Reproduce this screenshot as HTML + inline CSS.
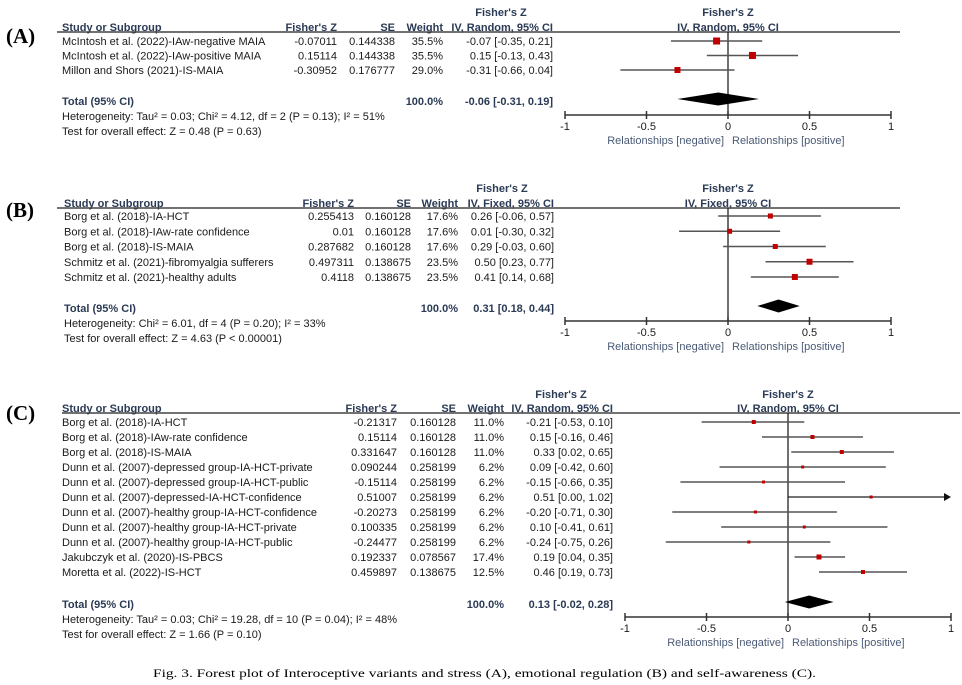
<!DOCTYPE html>
<html><head><meta charset="utf-8">
<style>
html,body{margin:0;padding:0;background:#fff;}
svg{display:block;}
text{font-family:"Liberation Sans",Arial,sans-serif;font-size:11px;fill:#1a1a1a;}
.h{font-weight:bold;fill:#2b3a55;}
.t{font-weight:bold;fill:#2b3a55;}
.rel{fill:#4a5a75;}
.pl{font-family:"Liberation Serif",serif;font-size:21px;font-weight:bold;fill:#000;}
.cap{font-family:"Liberation Serif",serif;font-size:12px;fill:#000;}
</style></head>
<body>
<svg id="s" width="962" height="685" viewBox="0 0 962 685" xmlns="http://www.w3.org/2000/svg"></svg>
<script>
const S=document.getElementById('s');const NS='http://www.w3.org/2000/svg';
function el(n,a,txt){const e=document.createElementNS(NS,n);for(const k in a)e.setAttribute(k,a[k]);if(txt!==undefined)e.textContent=txt;S.appendChild(e);return e;}
function T(x,y,s,cls,anchor){return el('text',{x:x,y:y+4,class:cls||'','text-anchor':anchor||'start'},s);}
function L(x1,y1,x2,y2,c,w){el('line',{x1,y1,x2,y2,stroke:c||'#555','stroke-width':w||1.5});}
function panel(p){
  const z=p.z0,u=p.u;const X=v=>z+u*v;
  // headers
  T(p.ci-52,p.hy1,"Fisher's Z",'h','middle');
  T(p.nx,p.hy2,'Study or Subgroup','h');
  T(p.fz,p.hy2,"Fisher's Z",'h','end');
  T(p.se,p.hy2,'SE','h','end');
  T(p.w,p.hy2,'Weight','h','end');
  T(p.ci,p.hy2,p.meth,'h','end');
  T(z,p.hy1,"Fisher's Z",'h','middle');
  T(z,p.hy2,p.meth,'h','middle');
  L(p.r0,p.ry,p.r1,p.ry,'#444',1.5);
  // zero line
  L(z,p.ry,z,p.ay,'#222',1.3);
  p.rows.forEach((r,i)=>{
    const y=p.rows0+i*p.step;
    T(p.nx,y,r[0]);T(p.fz,y,r[1],'','end');T(p.se,y,r[2],'','end');T(p.w,y,r[3],'','end');T(p.ci,y,r[4],'','end');
    const lo=r[6],hi=r[7];
    if(hi>1){L(X(lo),y,X(1)-5,y,'#222',1.3);el('polygon',{points:`${X(1)},${y} ${X(1)-7},${y-4} ${X(1)-7},${y+4}`,fill:'#111'});}
    else L(X(lo),y,X(hi),y,'#555',1.5);
    const s=r[8];el('rect',{x:X(r[5])-s/2,y:y-s/2,width:s,height:s,fill:'#c00000'});
  });
  T(p.nx,p.ty,'Total (95% CI)','t');T(p.w,p.ty,'100.0%','t','end');T(p.ci,p.ty,p.tot[0],'t','end');
  const d=p.tot;const dy=p.dy;
  el('polygon',{points:`${X(d[2])},${dy} ${X(d[1])},${dy-6.5} ${X(d[3])},${dy} ${X(d[1])},${dy+6.5}`,fill:'#000'});
  T(p.nx,p.ty+15,p.het);T(p.nx,p.ty+30,p.test);
  // axis
  L(X(-1),p.ay,X(1),p.ay,'#333',1.5);
  [-1,-0.5,0,0.5,1].forEach(v=>{L(X(v),p.ay-4,X(v),p.ay+4,'#333',1.5);T(X(v),p.ay+11,String(v),'','middle');});
  T(z-4,p.ay+25,'Relationships [negative]','rel','end');T(z+4,p.ay+25,'Relationships [positive]','rel');
  el('text',{x:6,y:p.ly+7,class:'pl'},p.lab);
}
panel({lab:'(A)',ly:36,z0:728,u:163,nx:62,fz:337,se:395,w:443,ci:553,hy1:12,hy2:27,ry:32,r0:57,r1:900,meth:'IV, Random, 95% CI',
 rows0:41,step:14.5,ty:101,dy:99,ay:115,
 rows:[['McIntosh et al. (2022)-IAw-negative MAIA','-0.07011','0.144338','35.5%','-0.07 [-0.35, 0.21]',-0.07,-0.35,0.21,7],
       ['McIntosh et al. (2022)-IAw-positive MAIA','0.15114','0.144338','35.5%','0.15 [-0.13, 0.43]',0.15,-0.13,0.43,7],
       ['Millon and Shors (2021)-IS-MAIA','-0.30952','0.176777','29.0%','-0.31 [-0.66, 0.04]',-0.31,-0.66,0.04,6]],
 tot:['-0.06 [-0.31, 0.19]',-0.06,-0.31,0.19],
 het:'Heterogeneity: Tau² = 0.03; Chi² = 4.12, df = 2 (P = 0.13); I² = 51%',test:'Test for overall effect: Z = 0.48 (P = 0.63)'});
panel({lab:'(B)',ly:210,z0:728,u:163,nx:64,fz:354,se:411,w:458,ci:554,hy1:188,hy2:203,ry:208,r0:57,r1:900,meth:'IV, Fixed, 95% CI',
 rows0:216,step:15.25,ty:308,dy:306,ay:321,
 rows:[['Borg et al. (2018)-IA-HCT','0.255413','0.160128','17.6%','0.26 [-0.06, 0.57]',0.26,-0.06,0.57,5],
       ['Borg et al. (2018)-IAw-rate confidence','0.01','0.160128','17.6%','0.01 [-0.30, 0.32]',0.01,-0.30,0.32,5],
       ['Borg et al. (2018)-IS-MAIA','0.287682','0.160128','17.6%','0.29 [-0.03, 0.60]',0.29,-0.03,0.60,5],
       ['Schmitz et al. (2021)-fibromyalgia sufferers','0.497311','0.138675','23.5%','0.50 [0.23, 0.77]',0.50,0.23,0.77,6],
       ['Schmitz et al. (2021)-healthy adults','0.4118','0.138675','23.5%','0.41 [0.14, 0.68]',0.41,0.14,0.68,6]],
 tot:['0.31 [0.18, 0.44]',0.31,0.18,0.44],
 het:'Heterogeneity: Chi² = 6.01, df = 4 (P = 0.20); I² = 33%',test:'Test for overall effect: Z = 4.63 (P < 0.00001)'});
panel({lab:'(C)',ly:413,z0:788,u:163,nx:62,fz:397,se:456,w:504,ci:613,hy1:394,hy2:408,ry:413,r0:62,r1:960,meth:'IV, Random, 95% CI',
 rows0:422,step:15,ty:604,dy:602,ay:617,
 rows:[['Borg et al. (2018)-IA-HCT','-0.21317','0.160128','11.0%','-0.21 [-0.53, 0.10]',-0.21,-0.53,0.10,4],
       ['Borg et al. (2018)-IAw-rate confidence','0.15114','0.160128','11.0%','0.15 [-0.16, 0.46]',0.15,-0.16,0.46,4],
       ['Borg et al. (2018)-IS-MAIA','0.331647','0.160128','11.0%','0.33 [0.02, 0.65]',0.33,0.02,0.65,4],
       ['Dunn et al. (2007)-depressed group-IA-HCT-private','0.090244','0.258199','6.2%','0.09 [-0.42, 0.60]',0.09,-0.42,0.60,3],
       ['Dunn et al. (2007)-depressed group-IA-HCT-public','-0.15114','0.258199','6.2%','-0.15 [-0.66, 0.35]',-0.15,-0.66,0.35,3],
       ['Dunn et al. (2007)-depressed-IA-HCT-confidence','0.51007','0.258199','6.2%','0.51 [0.00, 1.02]',0.51,0.00,1.02,3],
       ['Dunn et al. (2007)-healthy group-IA-HCT-confidence','-0.20273','0.258199','6.2%','-0.20 [-0.71, 0.30]',-0.20,-0.71,0.30,3],
       ['Dunn et al. (2007)-healthy group-IA-HCT-private','0.100335','0.258199','6.2%','0.10 [-0.41, 0.61]',0.10,-0.41,0.61,3],
       ['Dunn et al. (2007)-healthy group-IA-HCT-public','-0.24477','0.258199','6.2%','-0.24 [-0.75, 0.26]',-0.24,-0.75,0.26,3],
       ['Jakubczyk et al. (2020)-IS-PBCS','0.192337','0.078567','17.4%','0.19 [0.04, 0.35]',0.19,0.04,0.35,5],
       ['Moretta et al. (2022)-IS-HCT','0.459897','0.138675','12.5%','0.46 [0.19, 0.73]',0.46,0.19,0.73,4]],
 tot:['0.13 [-0.02, 0.28]',0.13,-0.02,0.28],
 het:'Heterogeneity: Tau² = 0.03; Chi² = 19.28, df = 10 (P = 0.04); I² = 48%',test:'Test for overall effect: Z = 1.66 (P = 0.10)'});
el('text',{x:153,y:677,class:'cap',textLength:663,lengthAdjust:'spacingAndGlyphs'},'Fig. 3.  Forest plot of Interoceptive variants and stress (A), emotional regulation (B) and self-awareness (C).');
</script>
</body></html>
